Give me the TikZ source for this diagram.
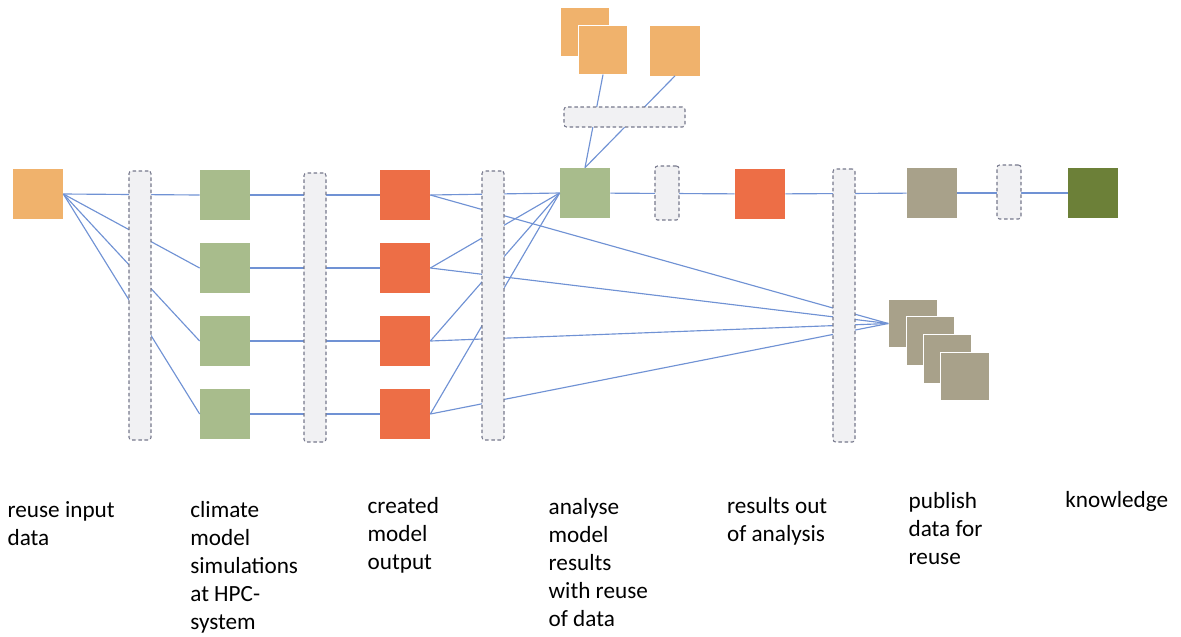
\documentclass[tikz,border=0pt]{standalone}
\usepackage{fontspec}
\setmainfont{Carlito}
\usetikzlibrary{arrows}

\definecolor{inputorange}{RGB}{240,178,108}
\definecolor{simgreen}{RGB}{168,188,140}
\definecolor{outred}{RGB}{237,110,70}
\definecolor{pubtan}{RGB}{168,161,138}
\definecolor{knowgreen}{RGB}{108,128,56}
\definecolor{linkblue}{RGB}{112,146,212}
\definecolor{hubfill}{RGB}{241,241,243}
\definecolor{hubline}{RGB}{118,120,140}

\begin{document}
\begin{tikzpicture}[node distance=1.46cm,
    box/.style={rectangle, inner sep=0pt, minimum size=1cm},
    hub/.style={rectangle, draw=hubline, fill=hubfill, dash pattern=on 2pt off 1.5pt,
      line width=0.6pt, rounded corners=1.5pt, inner sep=0pt, minimum width=0.44cm},
    link/.style={draw=linkblue, line width=0.65pt},
    caption/.style={anchor=base west, align=left, inner sep=0pt,
      font=\fontsize{13.2}{15.9}\selectfont}]
  \useasboundingbox (0,0) rectangle (23.62,-12.72);

  % main chain
  \node[box, fill=inputorange] (in)   at (0.76,-3.88)  {};
  \node[box, fill=simgreen]    (sim1) at (4.5,-3.9)    {};
  \node[box, fill=simgreen]    (sim2) [below of=sim1]  {};
  \node[box, fill=simgreen]    (sim3) [below of=sim2]  {};
  \node[box, fill=simgreen]    (sim4) [below of=sim3]  {};
  \node[box, fill=outred]      (out1) at (8.1,-3.9)    {};
  \node[box, fill=outred]      (out2) [below of=out1]  {};
  \node[box, fill=outred]      (out3) [below of=out2]  {};
  \node[box, fill=outred]      (out4) [below of=out3]  {};
  \node[box, fill=simgreen]    (ana)  at (11.7,-3.86)  {};
  \node[box, fill=outred]      (res)  at (15.2,-3.88)  {};
  \node[box, fill=pubtan]      (pub)  at (18.64,-3.86) {};
  \node[box, fill=knowgreen]   (know) at (21.86,-3.86) {};

  % reused data on top
  \node[box, fill=inputorange, minimum size=0.97cm] (src1) at (11.7,-0.64) {};
  \node[box, fill=inputorange, minimum size=0.97cm, draw=white, line width=0.4pt] (src2) at (12.06,-1.0) {};
  \node[box, fill=inputorange] (src3) at (13.5,-1.01) {};

  % published data
  \node[box, fill=pubtan, minimum size=0.97cm, draw=white, line width=0.6pt] (rep1) at (18.26,-6.47) {};
  \node[box, fill=pubtan, minimum size=0.97cm, draw=white, line width=0.6pt] (rep2) at (18.61,-6.82) {};
  \node[box, fill=pubtan, minimum size=0.97cm, draw=white, line width=0.6pt] (rep3) at (18.95,-7.18) {};
  \node[box, fill=pubtan, minimum size=0.97cm, draw=white, line width=0.6pt] (rep4) at (19.3,-7.53)  {};

  \draw[link]
      (in.east) edge (sim1.west)
                edge (sim2.west)
                edge (sim3.west)
                edge (sim4.west)
      (sim1) edge (out1)
      (sim2) edge (out2)
      (sim3) edge (out3)
      (sim4) edge (out4)
      (out1.east) edge (ana.west)
                  edge (rep1.west)
      (out2.east) edge (ana.west)
                  edge (rep1.west)
      (out3.east) edge (ana.west)
                  edge (rep1.west)
      (out4.east) edge (ana.west)
                  edge (rep1.west)
      (src2.south) edge (ana.north)
      (src3.south) edge (ana.north)
      (ana) edge (res)
      (res) edge (pub)
      (pub) edge (know);

  % dashed hubs over the links
  \node[hub, minimum height=5.38cm] (hub1) at (2.8,-6.11)  {};
  \node[hub, minimum height=5.38cm] (hub2) at (6.3,-6.15)  {};
  \node[hub, minimum height=5.38cm] (hub3) at (9.86,-6.11) {};
  \node[hub, minimum height=5.46cm] (hub4) at (16.88,-6.11) {};
  \node[hub, minimum width=0.48cm, minimum height=1.08cm] (gate1) at (13.34,-3.86) {};
  \node[hub, minimum width=0.48cm, minimum height=1.08cm] (gate2) at (20.18,-3.84) {};
  \node[hub, minimum width=2.42cm, minimum height=0.4cm]  (pool)  at (12.49,-2.34) {};

  % step captions (base = last line)
  \node[caption] (c-in)   at (0.146,-10.9)  {reuse input\\data};
  \node[caption] (c-sim)  at (3.8,-12.58)   {climate\\model\\simulations\\at HPC-\\system};
  \node[caption] (c-out)  at (7.346,-11.38) {created\\model\\output};
  \node[caption] (c-ana)  at (10.966,-12.52) {analyse\\model\\results\\with reuse\\of data};
  \node[caption] (c-res)  at (14.534,-10.82) {results out\\of analysis};
  \node[caption] (c-pub)  at (18.166,-11.28) {publish\\data for\\reuse};
  \node[caption] (c-know) at (21.3,-10.14)  {knowledge};
\end{tikzpicture}
\end{document}
